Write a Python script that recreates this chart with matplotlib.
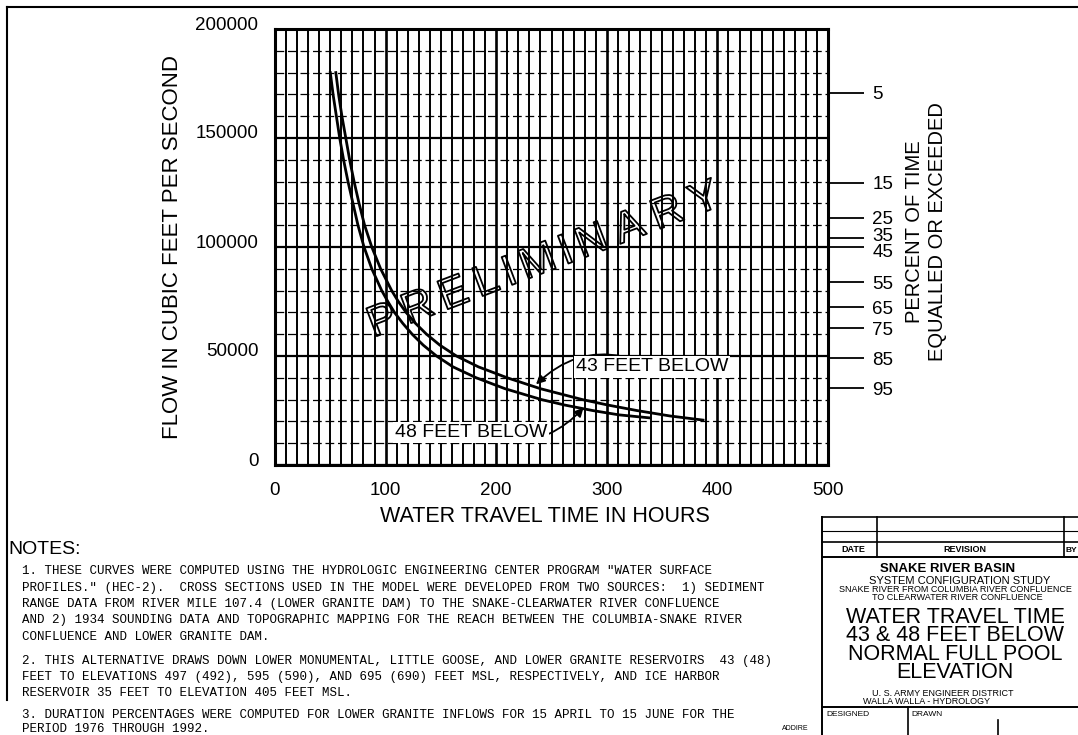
import matplotlib
matplotlib.use("Agg")
import matplotlib.pyplot as plt
import matplotlib.patheffects as pe
from matplotlib.lines import Line2D
from matplotlib.transforms import ScaledTranslation
from matplotlib.textpath import TextPath
from matplotlib.font_manager import FontProperties
import numpy as np

plt.rcParams["font.family"] = ["Liberation Sans", "DejaVu Sans"]

# --- data --------------------------------------------------------------------
flow_48 = [180000, 170000, 160000, 150000, 140000, 130000, 120000, 110000,
           100000, 90000, 80000, 75000, 70000, 65000, 60000, 55000, 50000,
           45000, 40000, 35000, 30000, 27500, 25000, 23000, 21600]
hours_48 = [50, 52.5, 55.5, 58.5, 62, 66, 70.5, 75, 80.5, 87.5, 96.5, 102,
            108, 115.5, 124, 134, 146, 161, 182, 208, 241, 262, 287, 311, 339]

flow_43 = [180000, 170000, 160000, 150000, 140000, 130000, 120000, 110000,
           100000, 90000, 80000, 75000, 70000, 65000, 60000, 55000, 50000,
           45000, 40000, 35000, 30000, 27500, 25000, 22500, 20600]
hours_43 = [55, 57.5, 60.5, 64, 67.5, 71.5, 76, 81, 87.5, 95.5, 105.5, 111.5,
            118.5, 127, 137, 149, 164, 184, 210, 240, 278, 301, 327, 357, 387]

pct_labels = ["5", "15", "25", "35", "45", "55", "65", "75", "85", "95"]
pct_flows = [170700, 129500, 113500, 103900, 99800, 83750, 72300, 62700,
             49000, 35200]

x_ticks = [0, 100, 200, 300, 400, 500]
y_ticks = [0, 50000, 100000, 150000, 200000]

notes = [
    "1. THESE CURVES WERE COMPUTED USING THE HYDROLOGIC ENGINEERING CENTER PROGRAM \"WATER SURFACE",
    "PROFILES.\" (HEC-2).  CROSS SECTIONS USED IN THE MODEL WERE DEVELOPED FROM TWO SOURCES:  1) SEDIMENT",
    "RANGE DATA FROM RIVER MILE 107.4 (LOWER GRANITE DAM) TO THE SNAKE-CLEARWATER RIVER CONFLUENCE",
    "AND 2) 1934 SOUNDING DATA AND TOPOGRAPHIC MAPPING FOR THE REACH BETWEEN THE COLUMBIA-SNAKE RIVER",
    "CONFLUENCE AND LOWER GRANITE DAM.",
    "2. THIS ALTERNATIVE DRAWS DOWN LOWER MONUMENTAL, LITTLE GOOSE, AND LOWER GRANITE RESERVOIRS  43 (48)",
    "FEET TO ELEVATIONS 497 (492), 595 (590), AND 695 (690) FEET MSL, RESPECTIVELY, AND ICE HARBOR",
    "RESERVOIR 35 FEET TO ELEVATION 405 FEET MSL.",
    "3. DURATION PERCENTAGES WERE COMPUTED FOR LOWER GRANITE INFLOWS FOR 15 APRIL TO 15 JUNE FOR THE",
    "PERIOD 1976 THROUGH 1992.",
]

title_lines = ["WATER TRAVEL TIME", "43 & 48 FEET BELOW", "NORMAL FULL POOL",
               "ELEVATION"]
watermark = "PRELIMINARY"

# --- layout helpers (pixel -> figure fraction) ------------------------------
W, H = 1078, 735


def fx(px):
    return px / W


def fy(py):
    return 1 - py / H


fig = plt.figure(figsize=(W / 100, H / 100), dpi=100)


def line(x0, y0, x1, y1, lw=1.2):
    fig.add_artist(Line2D([fx(x0), fx(x1)], [fy(y0), fy(y1)],
                          transform=fig.transFigure, color="k", lw=lw))


def ftext(px, py, s, **kw):
    return fig.text(fx(px), fy(py), s, **kw)


# --- main chart ---------------------------------------------------------------
ax = fig.add_axes([fx(275), fy(465), fx(828) - fx(275), fy(29) - fy(465)])
ax.set_xlim(0, 500)
ax.set_ylim(0, 200000)
ax.set_xticks(x_ticks)
ax.set_xticklabels([str(v) for v in x_ticks])
ax.set_xticks(np.arange(0, 501, 10), minor=True)
ax.set_yticks(y_ticks)
ax.set_yticklabels([str(v) for v in y_ticks])
ax.set_yticks(np.arange(0, 200001, 10000), minor=True)
ax.set_axisbelow(True)
ax.grid(which="minor", axis="x", color="k", lw=1.4)
ax.grid(which="major", axis="x", color="k", lw=1.9)
ax.grid(which="minor", axis="y", color="k", lw=0.9, ls=(0, (7, 3)))
ax.grid(which="major", axis="y", color="k", lw=1.6)
ax.tick_params(which="both", length=0)
ax.tick_params(axis="x", labelsize=13.5, pad=12)
ax.tick_params(axis="y", labelsize=13.5, pad=12)
for lbl in ax.get_yticklabels():
    lbl.set_transform(lbl.get_transform()
                      + ScaledTranslation(0, 0.06, fig.dpi_scale_trans))
for s in ax.spines.values():
    s.set_linewidth(2.2)

ax.plot(hours_48, flow_48, color="k", lw=2.0)
ax.plot(hours_43, flow_43, color="k", lw=2.0)

arrow_kw = dict(arrowstyle="-|>", color="k", lw=1.3, mutation_scale=13,
                shrinkA=0, shrinkB=0)
ax.annotate("43 FEET BELOW", xy=(236, 37000), xytext=(272, 45000),
            fontsize=14, ha="left", va="center",
            bbox=dict(fc="white", ec="none", pad=1.5),
            arrowprops=dict(connectionstyle="arc3,rad=0.35", **arrow_kw))
ax.annotate("48 FEET BELOW", xy=(279, 26300), xytext=(246, 15000),
            fontsize=14, ha="right", va="center",
            bbox=dict(fc="white", ec="none", pad=1.5),
            arrowprops=dict(connectionstyle="arc3,rad=0.35", **arrow_kw))

# outlined, spaced-out watermark along a slanted baseline
wm_size = 31
fp = FontProperties(family="Liberation Sans", size=wm_size)
widths = [TextPath((0, 0), ch, prop=fp).get_extents().width * 100 / 72
          for ch in watermark]
p0, p1 = np.array([383.0, 322.0]), np.array([705.0, 200.0])
span = np.hypot(*(p1 - p0))
unit = (p1 - p0) / span
angle = np.degrees(np.arctan2(p0[1] - p1[1], p1[0] - p0[0]))
base = sum((widths[i] + widths[i + 1]) / 2 for i in range(len(widths) - 1))
gap = (span - base) / (len(widths) - 1)
pos = 0.0
for i, ch in enumerate(watermark):
    if i > 0:
        pos += (widths[i - 1] + widths[i]) / 2 + gap
    cx, cy = p0 + unit * pos
    ftext(cx, cy, ch, fontsize=wm_size, rotation=angle, rotation_mode="anchor",
          ha="center", va="center", color=(1, 1, 1, 0),
          path_effects=[pe.Stroke(linewidth=1.3, foreground="k")])

# right-hand duration scale
ax2 = ax.twinx()
ax2.set_ylim(0, 200000)
ax2.set_yticks(pct_flows)
ax2.set_yticklabels(pct_labels)
ax2.tick_params(axis="y", length=26, width=1.3, pad=6, labelsize=13.5)
for lbl in ax2.get_yticklabels():
    nudge = {"35": 0.035, "45": -0.035}.get(lbl.get_text(), 0)
    if nudge:
        lbl.set_transform(lbl.get_transform()
                          + ScaledTranslation(0, nudge, fig.dpi_scale_trans))
for s in ax2.spines.values():
    s.set_visible(False)

# axis titles
ftext(173, 247, "FLOW IN CUBIC FEET PER SECOND", fontsize=16, rotation=90,
      ha="center", va="center")
ftext(545, 517, "WATER TRAVEL TIME IN HOURS", fontsize=15.5,
      ha="center", va="center")
ftext(926, 232, "PERCENT OF TIME\nEQUALLED OR EXCEEDED", fontsize=14.5,
      rotation=90, ha="center", va="center", multialignment="center",
      linespacing=1.25)

# --- page border and notes ------------------------------------------------------
line(7, 7, W, 7, lw=1.5)
line(7, 7, 7, 700, lw=1.5)

ftext(8, 549, "NOTES:", fontsize=14, ha="left", va="center")
note_y = [571, 588, 604, 620, 637, 661, 677, 693, 715, 729]
for s, y in zip(notes, note_y):
    ftext(22, y, s, fontsize=9.0, family="Liberation Mono",
          ha="left", va="center")

# --- title block ---------------------------------------------------------------
line(822, 517, W, 517)
line(822, 531, W, 531, lw=0.8)
line(822, 542, W, 542)
line(822, 557, W, 557, lw=1.4)
line(822, 517, 822, H, lw=1.4)
line(877, 517, 877, 557)
line(1064, 517, 1064, 557)
line(822, 707, W, 707, lw=1.4)
line(908, 707, 908, H)
line(998, 720, 998, H)

ftext(853, 550, "DATE", fontsize=6.5, fontweight="bold", ha="center", va="center")
ftext(965, 550, "REVISION", fontsize=6.5, fontweight="bold", ha="center", va="center")
ftext(1066, 550, "BY", fontsize=6, fontweight="bold", ha="left", va="center")
ftext(948, 569, "SNAKE RIVER BASIN", fontsize=9.5, fontweight="bold",
      ha="center", va="center")
ftext(960, 581, "SYSTEM CONFIGURATION STUDY", fontsize=8, ha="center", va="center")
ftext(955, 590, "SNAKE RIVER FROM COLUMBIA RIVER CONFLUENCE", fontsize=6.5,
      ha="center", va="center")
ftext(957, 598, "TO CLEARWATER RIVER CONFLUENCE", fontsize=6.5,
      ha="center", va="center")
ftext(955, 645, "\n".join(title_lines), fontsize=15.5, ha="center",
      va="center", multialignment="center", linespacing=0.85)
ftext(943, 693, "U. S. ARMY ENGINEER DISTRICT", fontsize=6.5,
      ha="center", va="center")
ftext(927, 702, "WALLA WALLA - HYDROLOGY", fontsize=6.5,
      ha="center", va="center")
ftext(826, 714, "DESIGNED", fontsize=6, ha="left", va="center")
ftext(911, 714, "DRAWN", fontsize=6, ha="left", va="center")
ftext(782, 729, "ADDIRE", fontsize=5, ha="left", va="center")

fig.savefig("out.png", dpi=100)
